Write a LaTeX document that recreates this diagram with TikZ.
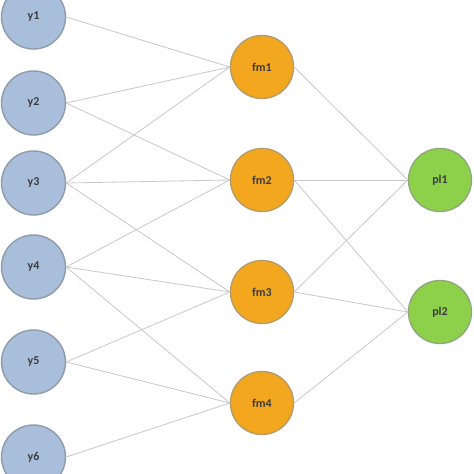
\documentclass[tikz,border=0pt]{standalone}
\usepackage{fontspec}
\setmainfont{Carlito}
\definecolor{yfill}{HTML}{A9BEDB}
\definecolor{ydraw}{HTML}{8F9BAA}
\definecolor{ffill}{HTML}{F2A71E}
\definecolor{fdraw}{HTML}{B59C6A}
\definecolor{pfill}{HTML}{8DD14B}
\definecolor{pdraw}{HTML}{8EA87C}
\definecolor{edge}{HTML}{C8C8C8}
\definecolor{txt}{HTML}{3C3C3C}
\begin{document}
\begin{tikzpicture}[x=1pt,y=-1pt,
  neuron/.style={circle,line width=1.4pt,inner sep=0pt,font=\bfseries\fontsize{12}{14}\selectfont,text=txt},
  ynode/.style={neuron,minimum size=64pt,fill=yfill,draw=ydraw},
  fnode/.style={neuron,minimum size=63pt,fill=ffill,draw=fdraw},
  pnode/.style={neuron,minimum size=63pt,fill=pfill,draw=pdraw},
  link/.style={draw=edge,line width=0.8pt}]
\clip (0,0) rectangle (474,474);
\fill[white] (0,0) rectangle (474,474);
\node[ynode] (y1) at (33.5,17) {y1};
\node[ynode] (y2) at (33.5,103) {y2};
\node[ynode] (y3) at (33.5,183) {y3};
\node[ynode] (y4) at (33.5,267) {y4};
\node[ynode] (y5) at (33.5,362) {y5};
\node[ynode] (y6) at (33.5,457) {y6};
\node[fnode] (f1) at (262,67) {fm1};
\node[fnode] (f2) at (262,180) {fm2};
\node[fnode] (f3) at (262,292) {fm3};
\node[fnode] (f4) at (262,403) {fm4};
\node[pnode] (p1) at (440,180) {pl1};
\node[pnode] (p2) at (440,312) {pl2};
\foreach \a/\b in {y1/f1,y2/f1,y2/f2,y3/f1,y3/f2,y3/f3,y4/f2,y4/f3,y4/f4,y5/f3,y5/f4,y6/f4,
  f1/p1,f2/p1,f2/p2,f3/p1,f3/p2,f4/p2}
  \path[link] (\a.east) -- (\b.west);
\end{tikzpicture}
\end{document}
